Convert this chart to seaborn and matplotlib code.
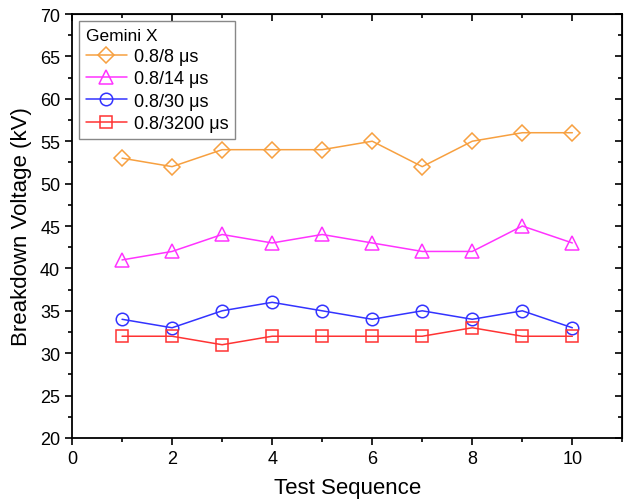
import pandas as pd
import matplotlib
matplotlib.use("Agg")
import matplotlib.pyplot as plt
from matplotlib.ticker import MultipleLocator
import seaborn as sns

# Data
test_seq = [1, 2, 3, 4, 5, 6, 7, 8, 9, 10]
v_8us = [53, 52, 54, 54, 54, 55, 52, 55, 56, 56]
v_14us = [41, 42, 44, 43, 44, 43, 42, 42, 45, 43]
v_30us = [34, 33, 35, 36, 35, 34, 35, 34, 35, 33]
v_3200us = [32, 32, 31, 32, 32, 32, 32, 33, 32, 32]

labels = ["0.8/8 μs", "0.8/14 μs", "0.8/30 μs", "0.8/3200 μs"]
values = [v_8us, v_14us, v_30us, v_3200us]
colors = ["#F7A040", "#FF33FF", "#3333FF", "#FF3333"]
markers = ["D", "^", "o", "s"]
msizes = [8, 9.5, 9, 8]

sns.set_style("ticks")
plt.rcParams["font.family"] = ["Liberation Sans", "DejaVu Sans"]
plt.rcParams.update({
    "text.color": "black", "axes.labelcolor": "black",
    "xtick.color": "black", "ytick.color": "black", "axes.edgecolor": "black",
})

df = pd.concat(
    [pd.DataFrame({"seq": test_seq, "kV": v, "wave": lab}) for lab, v in zip(labels, values)]
)

fig = plt.figure(figsize=(6.24, 5.02), dpi=100)
ax = fig.add_axes([0.1154, 0.1255, 0.882, 0.8446])

for lab, col, mk, ms in zip(labels, colors, markers, msizes):
    sns.lineplot(
        data=df[df["wave"] == lab], x="seq", y="kV", ax=ax, label=lab,
        color=col, marker=mk, markersize=ms, markerfacecolor="none",
        markeredgecolor=col, markeredgewidth=1.1, linewidth=1.1,
    )

ax.set_xlim(0, 11)
ax.set_ylim(20, 70)
ax.xaxis.set_major_locator(MultipleLocator(2))
ax.xaxis.set_minor_locator(MultipleLocator(1))
ax.yaxis.set_major_locator(MultipleLocator(5))
ax.yaxis.set_minor_locator(MultipleLocator(2.5))
ax.tick_params(axis="both", which="major", labelsize=13, length=5, width=1.2, direction="out")
ax.tick_params(axis="both", which="minor", length=3, width=1.2, direction="out")

# mirrored inward ticks on top and right
axt = ax.secondary_xaxis("top")
axt.xaxis.set_major_locator(MultipleLocator(2))
axt.xaxis.set_minor_locator(MultipleLocator(1))
axt.tick_params(which="major", direction="in", length=5, width=1.2, labeltop=False)
axt.tick_params(which="minor", direction="in", length=3, width=1.2)
axr = ax.secondary_yaxis("right")
axr.yaxis.set_major_locator(MultipleLocator(5))
axr.yaxis.set_minor_locator(MultipleLocator(2.5))
axr.tick_params(which="major", direction="in", length=5, width=1.2, labelright=False)
axr.tick_params(which="minor", direction="in", length=3, width=1.2)

for sp in ax.spines.values():
    sp.set_linewidth(1.3)
    sp.set_visible(True)

ax.set_xlabel("Test Sequence", fontsize=16, labelpad=7)
ax.set_ylabel("Breakdown Voltage (kV)", fontsize=16, labelpad=6)

leg = ax.legend(
    title="Gemini X", loc="upper left", fontsize=13, title_fontsize=12.5,
    frameon=True, fancybox=False, edgecolor="#888888", framealpha=1,
    borderaxespad=0.4, handlelength=2.3, handletextpad=0.4, labelspacing=0.3,
    borderpad=0.35,
)
leg._legend_box.align = "left"
leg.get_frame().set_linewidth(1.0)

fig.savefig("out.png", dpi=100)
